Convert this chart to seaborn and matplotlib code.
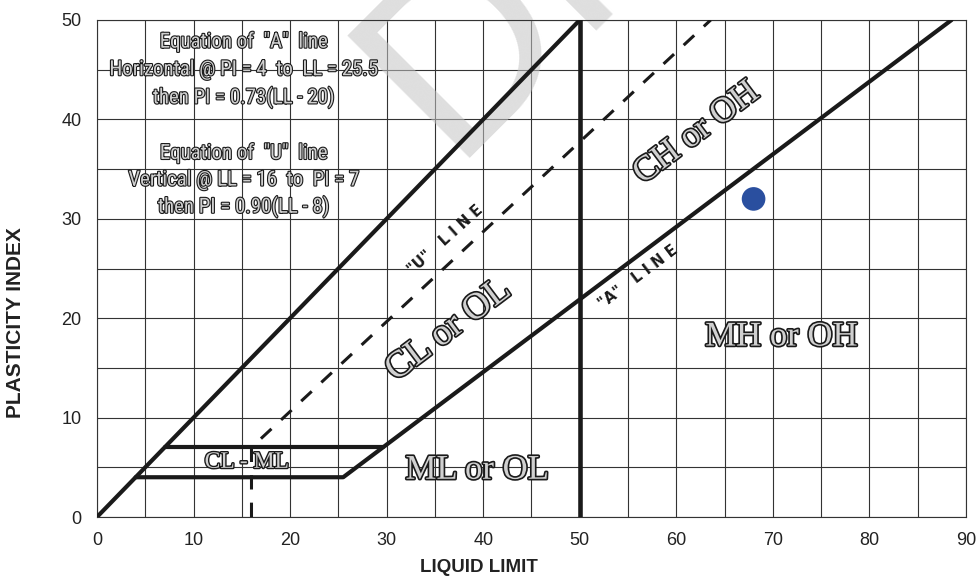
import matplotlib
matplotlib.use("Agg")
import matplotlib.pyplot as plt
import matplotlib.patheffects as pe
import seaborn as sns

# Axis ranges and ticks (liquid limit LL vs plasticity index PI)
ll_limits = [0, 90]
pi_limits = [0, 50]
x_ticks = [0, 10, 20, 30, 40, 50, 60, 70, 80, 90]
y_ticks = [0, 10, 20, 30, 40, 50]
grid_step = 5

# "A" line: horizontal at PI = 4 to LL = 25.5, then PI = 0.73(LL - 20)
a_line_ll = [4, 25.5, 88.5]
a_line_pi = [4, 4, 50]
# "U" line: vertical at LL = 16 to PI = 7, then PI = 0.90(LL - 8)
u_line_ll = [16, 16, 63.56]
u_line_pi = [0, 7, 50]
# Upper bound PI = LL
upper_ll = [0, 50]
upper_pi = [0, 50]
# Divide between low and high plasticity
ll50_ll = [50, 50]
ll50_pi = [0, 50]
# Upper edge of the CL-ML zone
pi7_ll = [7, 29.59]
pi7_pi = [7, 7]

# Tested sample
sample_ll = [68]
sample_pi = [32]

sns.set_style("white")
plt.rcParams["font.family"] = ["Liberation Sans", "DejaVu Sans"]

W, H = 979, 583
fig = plt.figure(figsize=(W / 100, H / 100), dpi=100, facecolor="white")
ax = fig.add_axes([97 / W, 66 / H, 869 / W, 497 / H])

ax.set_xlim(*ll_limits)
ax.set_ylim(*pi_limits)
ax.set_xticks(x_ticks)
ax.set_yticks(y_ticks)
ax.set_xticks(range(ll_limits[0], ll_limits[1] + 1, grid_step), minor=True)
ax.set_yticks(range(pi_limits[0], pi_limits[1] + 1, grid_step), minor=True)
ax.set_axisbelow(True)
ax.grid(which="both", color="#333333", linewidth=0.8)
ax.tick_params(which="major", direction="out", length=6, width=0.8,
               color="#777777", labelsize=13, labelcolor="#222222", pad=5)
ax.tick_params(which="minor", length=0)
for sp in ax.spines.values():
    sp.set_color("#333333")
    sp.set_linewidth(0.8)

# Watermark
ax.text(449 / W, 1 - 158 / H, "DRAFT", transform=fig.transFigure,
        fontsize=180, fontweight="normal", color="#c4c4c4", alpha=0.55,
        rotation=45, rotation_mode="anchor", ha="left", va="baseline",
        clip_on=False, zorder=1.5)

line_kw = dict(sort=False, estimator=None, color="#1a1a1a", ax=ax, legend=False)
sns.lineplot(x=upper_ll, y=upper_pi, linewidth=3.0, zorder=3, **line_kw)
sns.lineplot(x=ll50_ll, y=ll50_pi, linewidth=3.3, zorder=3, **line_kw)
sns.lineplot(x=a_line_ll, y=a_line_pi, linewidth=3.0, zorder=3, **line_kw)
sns.lineplot(x=pi7_ll, y=pi7_pi, linewidth=3.0, zorder=3, **line_kw)
sns.lineplot(x=u_line_ll, y=u_line_pi, linewidth=2.2,
             linestyle=(0, (4.7, 4.3)), zorder=3, **line_kw)

sns.scatterplot(x=sample_ll, y=sample_pi, s=290, color="#2a4f9f",
                edgecolor="none", zorder=6, ax=ax, legend=False)


def outlined(x, y, s, size, family, rot=0, lw=1.2, fill="#d0d0d0",
             edge="#1a1a1a", weight="normal"):
    ax.text(x, y, s, fontsize=size, family=family, fontweight=weight,
            rotation=rot, rotation_mode="anchor", ha="center", va="center",
            color=fill, zorder=5,
            path_effects=[pe.Stroke(linewidth=lw, foreground=edge), pe.Normal()])


narrow = ["Roboto Condensed", "Liberation Sans"]
eq_lines = [
    (47.8, 'Equation of  "A"  line'),
    (45.0, "Horizontal @ PI = 4  to  LL = 25.5"),
    (42.2, "then PI = 0.73(LL - 20)"),
    (36.6, 'Equation of  "U"  line'),
    (33.9, "Vertical @ LL = 16  to  PI = 7"),
    (31.2, "then PI = 0.90(LL - 8)"),
]
for yy, s in eq_lines:
    outlined(15.2, yy, s, 15, narrow, lw=1.6, fill="#cfcfcf")

serif = ["Liberation Serif", "DejaVu Serif"]
outlined(36.4, 18.8, "CL or OL", 27, serif, rot=37, lw=2.4)
outlined(62.1, 38.6, "CH or OH", 25.5, serif, rot=37, lw=2.4)
outlined(70.9, 18.1, "MH or OH", 25, serif, lw=2.4)
outlined(39.4, 4.7, "ML or OL", 25, serif, lw=2.4)
outlined(15.5, 5.5, "CL - ML", 17, serif, lw=2.0)

ax.text(36.1, 27.9, '"U"   L I N E', fontsize=10.5, fontweight="bold",
        family=["DejaVu Sans"], color="#1a1a1a", rotation=42,
        rotation_mode="anchor", ha="center", va="center", zorder=5)
ax.text(56.0, 24.2, '"A"   L I N E', fontsize=10.5, fontweight="bold",
        family=["DejaVu Sans"], color="#1a1a1a", rotation=37,
        rotation_mode="anchor", ha="center", va="center", zorder=5)

ax.set_xlabel("LIQUID LIMIT", fontsize=13.5, fontweight="bold", color="#222222")
ax.set_ylabel("PLASTICITY INDEX", fontsize=15, fontweight="bold", color="#222222")
ax.xaxis.label.set_verticalalignment("center")
ax.yaxis.label.set_verticalalignment("center")
ax.xaxis.set_label_coords((479 - 97) / 869, (517 - 567) / 497)
ax.yaxis.set_label_coords((16 - 97) / 869, (517 - 323) / 497)

fig.savefig("out.png", dpi=100, facecolor="white")
